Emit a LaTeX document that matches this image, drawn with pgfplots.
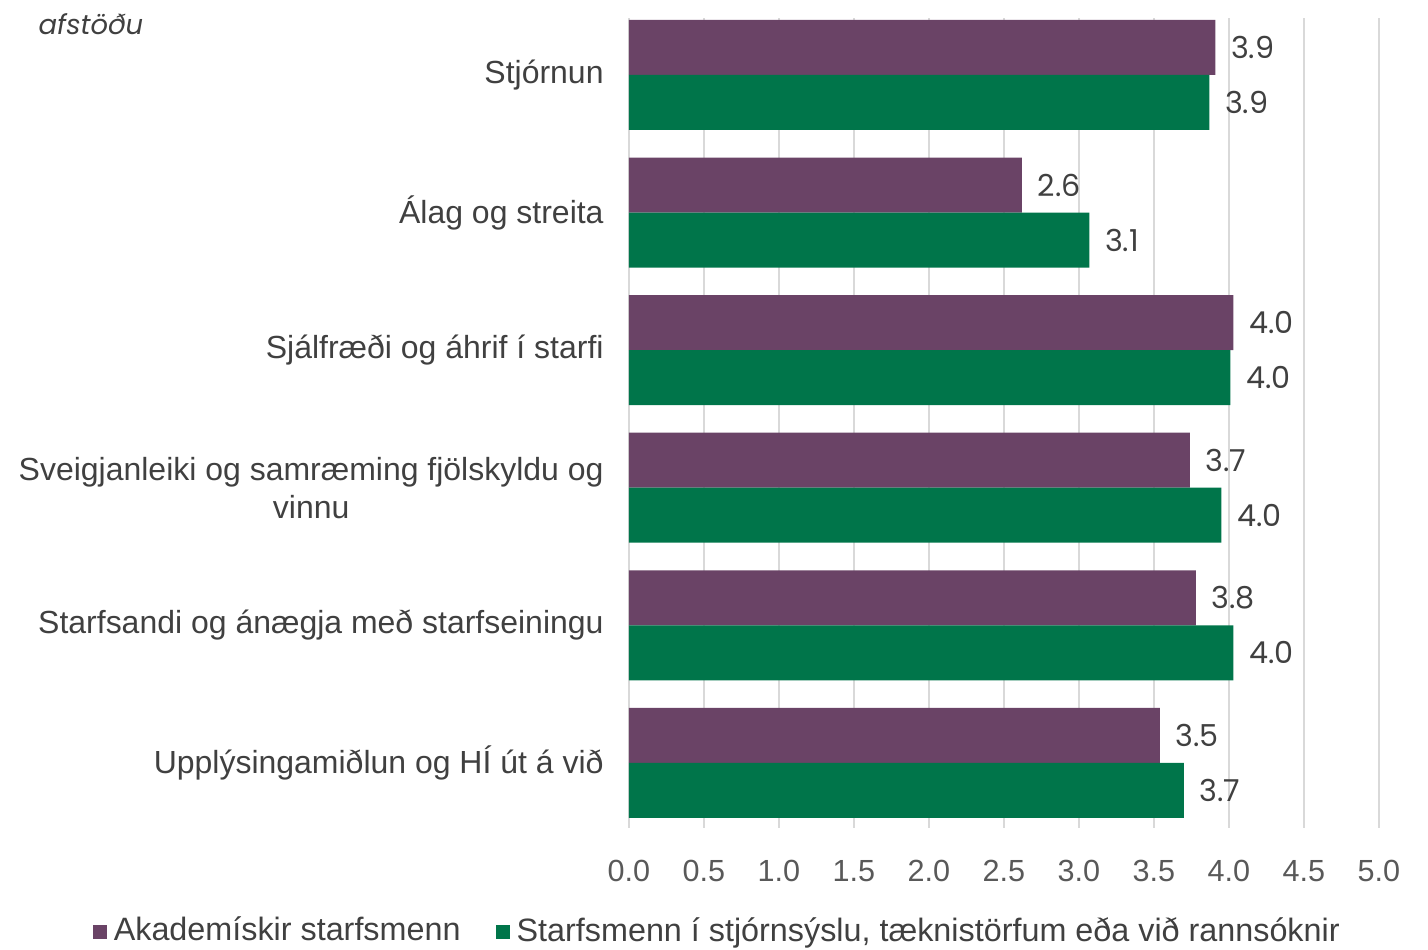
\documentclass[border=0pt]{standalone}
\usepackage{fontspec}
\setmainfont{Liberation Sans}
\newfontfamily\valfont{Poppins}
\usepackage{pgfplots}
\pgfplotsset{compat=1.18}

\definecolor{akad}{HTML}{6A4366}
\definecolor{stjorn}{HTML}{00754A}
\definecolor{txt}{HTML}{404040}
\definecolor{tick}{HTML}{595959}
\definecolor{gridc}{HTML}{D9D9D9}

\begin{document}
\begin{tikzpicture}
\path[use as bounding box] (0,0) rectangle (14.28,9.49);
\node[anchor=base west, font=\valfont\itshape\fontsize{7.8}{10}\selectfont, text=txt, inner sep=0pt]
  at (0.38,9.14) {afstöðu};
\begin{axis}[
  at={(6.29cm,1.21cm)}, anchor=south west,
  scale only axis,
  width=7.5cm, height=8.1cm,
  xbar, bar width=0.55cm,
  xmin=0, xmax=5,
  ymin=-0.473, ymax=5.414,
  xtick={0,0.5,...,5},
  xticklabel style={/pgf/number format/fixed, /pgf/number format/fixed zerofill,
    /pgf/number format/precision=1, text=tick, yshift=-0.2cm},
  ticklabel style={font=\fontsize{8.7}{10}\selectfont},
  ytick={0,1,2,3,4,5},
  yticklabels={Upplýsingamiðlun og HÍ út á við,
    Starfsandi og ánægja með starfseiningu,
    {Sveigjanleiki og samræming fjölskyldu og\\vinnu},
    Sjálfræði og áhrif í starfi,
    Álag og streita,
    Stjórnun},
  yticklabel style={align=center, text=txt, font=\fontsize{9.1}{10.8}\selectfont, xshift=-0.13cm},
  major tick length=0pt,
  xmajorgrids, grid style={gridc, line width=0.6pt},
  axis line style={draw=none},
  /pgf/number format/assume math mode=true,
  point meta=explicit,
  nodes near coords={\pgfmathprintnumber[fixed,fixed zerofill,precision=1]{\pgfplotspointmeta}},
  nodes near coords style={anchor=west, inner sep=0pt, xshift=0.15cm, text=txt, font=\valfont\fontsize{8.6}{10}\selectfont},
  legend columns=2,
  legend style={at={(0.121,-0.128)}, anchor=center, draw=none, fill=none,
    font=\fontsize{9.2}{10}\selectfont, text=txt,
    /tikz/every even column/.append style={column sep=0.28cm}},
  legend image code/.code={\fill[#1] (0cm,-0.07cm) rectangle (0.14cm,0.07cm);},
]
\addplot[fill=akad, draw=none, bar shift=0.275cm] coordinates {
  (3.54,0) [3.5]
  (3.78,1) [3.8]
  (3.74,2) [3.7]
  (4.03,3) [4.0]
  (2.62,4) [2.6]
  (3.91,5) [3.9]
};
\addlegendentry{Akademískir starfsmenn}
\addplot[fill=stjorn, draw=none, bar shift=-0.275cm] coordinates {
  (3.70,0) [3.7]
  (4.03,1) [4.0]
  (3.95,2) [4.0]
  (4.01,3) [4.0]
  (3.07,4) [3.1]
  (3.87,5) [3.9]
};
\addlegendentry{Starfsmenn í stjórnsýslu, tæknistörfum eða við rannsóknir}
\end{axis}
\end{tikzpicture}
\end{document}
